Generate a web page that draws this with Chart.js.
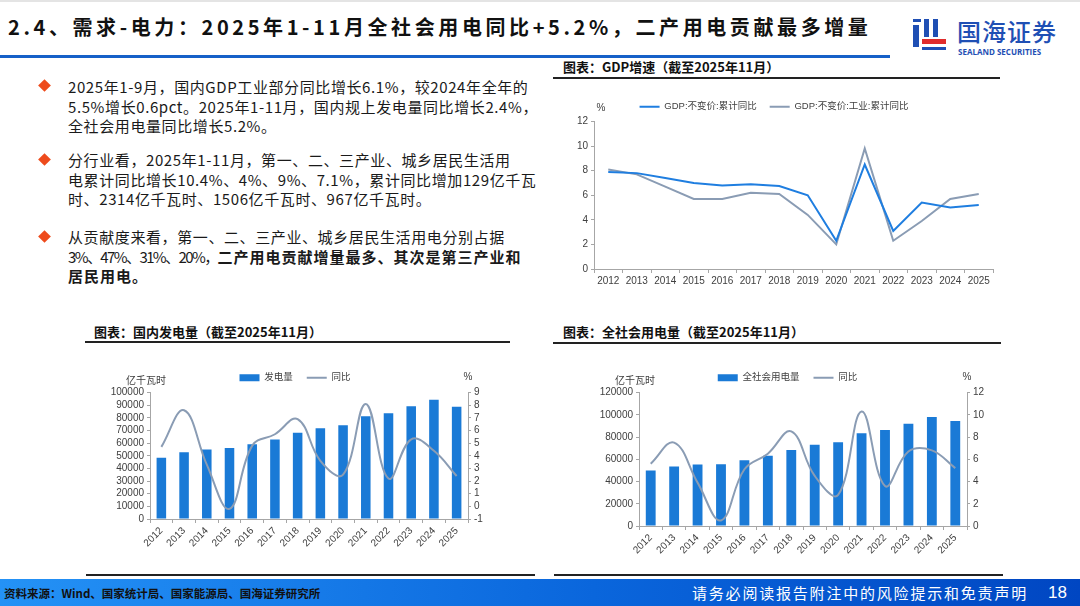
<!DOCTYPE html>
<html>
<head>
<meta charset="utf-8">
<script src="https://cdn.jsdelivr.net/npm/chart.js@4.4.1/dist/chart.umd.min.js"></script>
<style>
  body { margin: 0; width: 1080px; height: 606px; position: relative; overflow: hidden; background: #fff;
         font-family: "Noto Sans CJK SC", sans-serif; color: #1a1a1a; }
  .abs { position: absolute; }
  #title { left: 8px; top: 12px; font-size: 20px; font-weight: 700; letter-spacing: 3.6px; line-height: 30px; white-space: nowrap; color: #111; }
  #topline { left: 0; top: 55px; width: 890px; height: 3px; background: #1560c8; }
  .bullet { left: 68px; font-size: 15px; line-height: 19.5px; letter-spacing: 0.6px; white-space: nowrap; }
  .bullet b { letter-spacing: 1px; }
  .dia { width: 9px; height: 9px; background: #ee4b1c; transform: rotate(45deg); }
  .ctitle { font-size: 13px; font-weight: 700; white-space: nowrap; line-height: 18px; color: #111; }
  .uline { height: 2px; background: #222; }
  #footer { left: 0; top: 579px; width: 1080px; height: 27px; background: linear-gradient(to right, #2492f6, #0a66dc 55%, #0046c2); }
  canvas { position: absolute; }
</style>
</head>
<body>
<div class="abs" style="left:0;top:0;width:1080px;height:2px;background:#e4e4e4"></div>
<div id="title" class="abs">2.4、需求-电力：2025年1-11月全社会用电同比+5.2%，二产用电贡献最多增量</div>
<div id="topline" class="abs"></div>

<!-- logo -->
<div class="abs" style="left:913px;top:19px;width:8px;height:3px;background:#1f4fb4"></div>
<div class="abs" style="left:913px;top:25px;width:6px;height:22px;background:#1f4fb4"></div>
<div class="abs" style="left:924px;top:19px;width:5px;height:18px;background:#1f4fb4"></div>
<div class="abs" style="left:933px;top:19px;width:5px;height:18px;background:#1f4fb4"></div>
<div class="abs" style="left:922px;top:39px;width:24px;height:5px;background:#e02c2c"></div>
<div class="abs" style="left:922px;top:47px;width:24px;height:3px;background:#1f4fb4"></div>
<div class="abs" style="left:957px;top:17px;font-size:24px;line-height:28px;font-weight:500;color:#1f4fb4;letter-spacing:1px;white-space:nowrap">国海证券</div>
<div class="abs" style="left:958px;top:47px;font-size:8px;line-height:10px;font-weight:700;color:#1f4fb4;font-family:'Open Sans',sans-serif;white-space:nowrap">SEALAND SECURITIES</div>

<!-- bullets -->
<div class="abs dia" style="left:40px;top:81px"></div>
<div class="abs bullet" style="top:77px">2025年1-9月，国内GDP工业部分同比增长6.1%，较2024年全年的<br>5.5%增长0.6pct。2025年1-11月，国内规上发电量同比增长2.4%，<br>全社会用电量同比增长5.2%。</div>
<div class="abs dia" style="left:40px;top:155px"></div>
<div class="abs bullet" style="top:150px">分行业看，2025年1-11月，第一、二、三产业、城乡居民生活用<br>电累计同比增长10.4%、4%、9%、7.1%，累计同比增加129亿千瓦<br>时、2314亿千瓦时、1506亿千瓦时、967亿千瓦时。</div>
<div class="abs dia" style="left:40px;top:232px"></div>
<div class="abs bullet" style="top:227px">从贡献度来看，第一、二、三产业、城乡居民生活用电分别占据<br><span style="letter-spacing:-1.6px">3%、47%、31%、20%，</span><b>二产用电贡献增量最多、其次是第三产业和</b><br><b>居民用电。</b></div>

<!-- chart titles -->
<div class="abs ctitle" style="left:563px;top:58px">图表：GDP增速（截至2025年11月）</div>
<div class="abs uline" style="left:553px;top:77px;width:447px"></div>
<div class="abs ctitle" style="left:94px;top:323px">图表：国内发电量（截至2025年11月）</div>
<div class="abs uline" style="left:85px;top:341px;width:425px"></div>
<div class="abs ctitle" style="left:563px;top:323px">图表：全社会用电量（截至2025年11月）</div>
<div class="abs uline" style="left:553px;top:342px;width:448px"></div>

<div class="abs uline" style="left:86px;top:574px;width:449px"></div>
<div class="abs uline" style="left:554px;top:574px;width:449px"></div>

<canvas id="gdp" width="450" height="210" style="left:555px;top:85px"></canvas>
<canvas id="gen" width="420" height="220" style="left:85px;top:350px"></canvas>
<canvas id="use" width="445" height="225" style="left:565px;top:350px"></canvas>

<div id="footer" class="abs"></div>
<div class="abs" style="left:4px;top:585px;font-size:11.5px;line-height:16px;font-weight:700;color:#111;white-space:nowrap">资料来源：Wind、国家统计局、国家能源局、国海证券研究所</div>
<div class="abs" style="left:692px;top:582px;font-size:15px;line-height:22px;letter-spacing:1.8px;color:#fff;white-space:nowrap">请务必阅读报告附注中的风险提示和免责声明</div>
<div class="abs" style="left:1048px;top:582px;font-size:17px;line-height:22px;color:#fff;font-family:'Liberation Sans',sans-serif">18</div>

<script>
const years = ['2012','2013','2014','2015','2016','2017','2018','2019','2020','2021','2022','2023','2024','2025'];

// GDP growth, %
const gdpTotal    = [7.9, 7.8, 7.4, 7.0, 6.8, 6.9, 6.75, 6.0, 2.3, 8.5, 3.1, 5.4, 5.0, 5.2];
const gdpIndustry = [8.1, 7.7, 6.7, 5.7, 5.7, 6.2, 6.1, 4.4, 2.0, 9.8, 2.3, 3.9, 5.7, 6.1];

// power generation, 亿千瓦时 and yoy %
const genOutput = [48500, 52800, 54900, 56200, 59100, 62800, 68100, 71800, 74100, 81300, 83600, 89200, 94200, 88700];
const genYoy    = [4.7, 7.6, 3.3, -0.2, 4.8, 5.7, 6.9, 3.6, 2.5, 8.1, 2.2, 5.3, 4.4, 2.4];

// electricity consumption, 亿千瓦时 and yoy %
const useOutput = [49900, 53500, 55300, 55500, 59200, 63200, 68300, 73100, 75200, 83300, 86300, 92000, 98000, 94400];
const useYoy    = [5.6, 7.5, 3.9, 0.5, 5.1, 6.5, 8.5, 4.5, 2.8, 10.3, 3.6, 6.7, 6.8, 5.2];

const BLUE = '#1a7ad6';
const GREY = '#8a9cb4';
const AXIS = '#a6a6a6';

Chart.defaults.font.family = '"Liberation Sans", "Noto Sans CJK SC", sans-serif';
Chart.defaults.font.size = 10;
Chart.defaults.color = '#404040';

// unit labels above the value axes
const unitLabels = {
  id: 'unitLabels',
  afterDraw(chart, args, opts) {
    const { ctx, chartArea } = chart;
    ctx.save();
    ctx.font = '10px "Liberation Sans", "Noto Sans CJK SC"';
    ctx.fillStyle = '#404040';
    ctx.textAlign = 'center';
    ctx.textBaseline = 'middle';
    if (opts.left) ctx.fillText(opts.left, chartArea.left + opts.leftDx, chartArea.top + opts.leftDy);
    if (opts.right) ctx.fillText(opts.right, chartArea.right, chartArea.top + opts.rightDy);
    ctx.restore();
  }
};

const fixW = w => s => { s.width = w; };
const fixH = h => s => { s.height = h; };

const xAxis = (h, rot) => ({
  offset: true,
  afterFit: fixH(h),
  border: { display: true, color: AXIS },
  grid: { offset: true, drawOnChartArea: false, drawTicks: true, tickLength: 4, color: AXIS },
  ticks: { minRotation: rot, maxRotation: rot, padding: 2, autoSkip: false, color: '#404040' }
});

const yAxis = (pos, w, min, max, step) => ({
  position: pos,
  min: min, max: max,
  afterFit: fixW(w),
  border: { display: true, color: AXIS },
  grid: { drawOnChartArea: false, drawTicks: true, tickLength: 3, color: AXIS },
  ticks: { stepSize: step, padding: 3, autoSkip: false, color: '#404040', callback: v => String(v) }
});

const legendOpts = (pad) => ({
  position: 'top',
  labels: { usePointStyle: true, pointStyleWidth: 20, boxHeight: 7, padding: pad, color: '#404040',
            font: { size: 9.5 }, sort: (a, b) => a.datasetIndex - b.datasetIndex }
});

new Chart(document.getElementById('gdp'), {
  type: 'line',
  data: {
    labels: years,
    datasets: [
      { label: 'GDP:不变价:累计同比', data: gdpTotal, borderColor: '#1f7ee0', backgroundColor: '#1f7ee0',
        borderWidth: 2, pointRadius: 0, tension: 0, pointStyle: 'line' },
      { label: 'GDP:不变价:工业:累计同比', data: gdpIndustry, borderColor: GREY, backgroundColor: GREY,
        borderWidth: 2, pointRadius: 0, tension: 0, pointStyle: 'line' }
    ]
  },
  options: {
    responsive: false, animation: false, devicePixelRatio: 1,
    layout: { padding: { left: 0, right: 12, top: 4, bottom: 0 } },
    plugins: {
      legend: legendOpts(13),
      tooltip: { enabled: false },
      unitLabels: { right: null, left: '%', leftDx: 7, leftDy: -13 }
    },
    scales: {
      x: xAxis(26, 0),
      y: yAxis('left', 39, 0, 12, 2)
    }
  },
  plugins: [unitLabels]
});

new Chart(document.getElementById('gen'), {
  data: {
    labels: years,
    datasets: [
      { type: 'bar', label: '发电量', data: genOutput, backgroundColor: BLUE, borderWidth: 0,
        barPercentage: 0.42, categoryPercentage: 1, yAxisID: 'y', pointStyle: 'rect', order: 2 },
      { type: 'line', label: '同比', data: genYoy, borderColor: GREY, backgroundColor: GREY,
        borderWidth: 2, pointRadius: 0, tension: 0.4, yAxisID: 'y1', pointStyle: 'line', order: 1 }
    ]
  },
  options: {
    responsive: false, animation: false, devicePixelRatio: 1,
    layout: { padding: { top: 9 } },
    plugins: {
      legend: legendOpts(14),
      tooltip: { enabled: false },
      unitLabels: { left: '亿千瓦时', leftDx: -4, leftDy: -11, right: '%', rightDy: -15 }
    },
    scales: {
      x: xAxis(51, 45),
      y: yAxis('left', 65, 0, 100000, 10000),
      y1: yAxis('right', 37, -1, 9, 1)
    }
  },
  plugins: [unitLabels]
});

new Chart(document.getElementById('use'), {
  data: {
    labels: years,
    datasets: [
      { type: 'bar', label: '全社会用电量', data: useOutput, backgroundColor: BLUE, borderWidth: 0,
        barPercentage: 0.42, categoryPercentage: 1, yAxisID: 'y', pointStyle: 'rect', order: 2 },
      { type: 'line', label: '同比', data: useYoy, borderColor: GREY, backgroundColor: GREY,
        borderWidth: 2, pointRadius: 0, tension: 0.4, yAxisID: 'y1', pointStyle: 'line', order: 1 }
    ]
  },
  options: {
    responsive: false, animation: false, devicePixelRatio: 1,
    layout: { padding: { top: 9 } },
    plugins: {
      legend: legendOpts(14),
      tooltip: { enabled: false },
      unitLabels: { left: '亿千瓦时', leftDx: -4, leftDy: -11, right: '%', rightDy: -15 }
    },
    scales: {
      x: xAxis(49, 45),
      y: yAxis('left', 74, 0, 120000, 20000),
      y1: yAxis('right', 43, 0, 12, 2)
    }
  },
  plugins: [unitLabels]
});
</script>
</body>
</html>
